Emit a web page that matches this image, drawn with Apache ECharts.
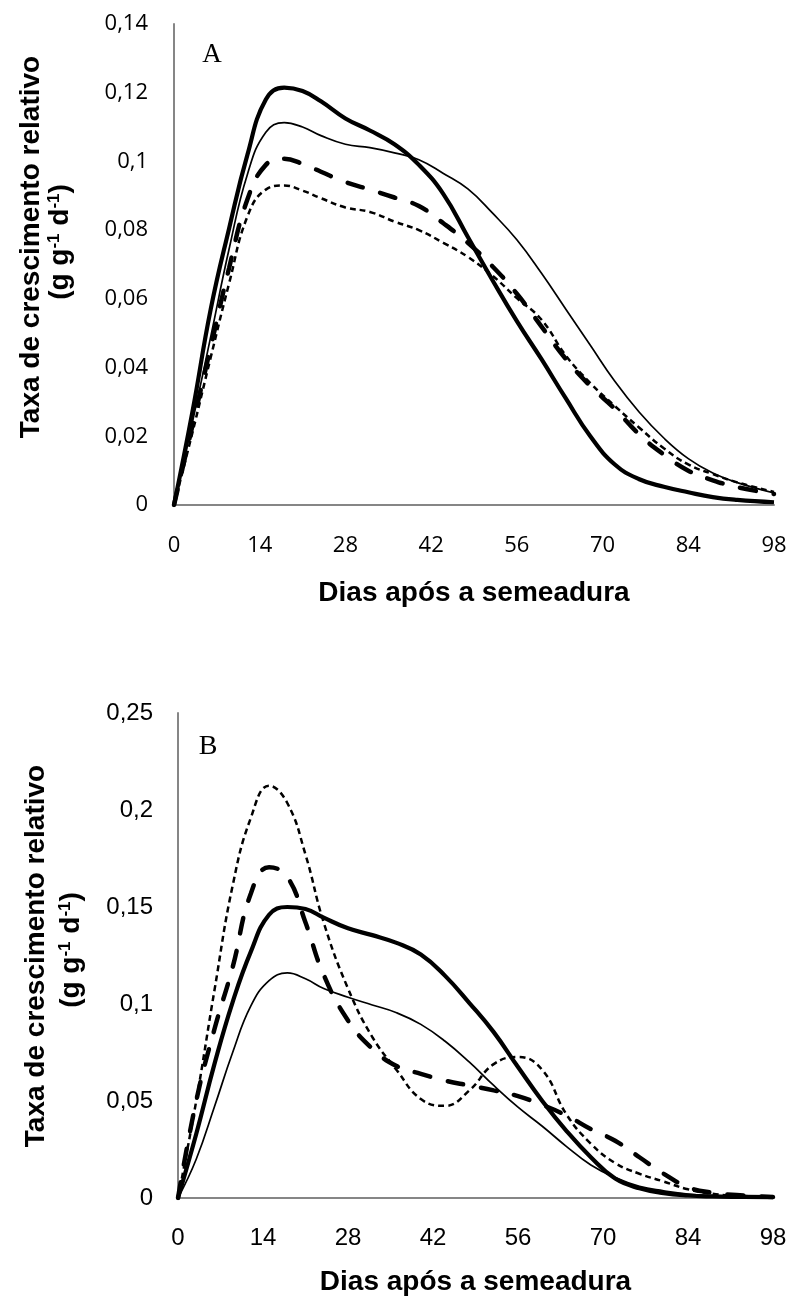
<!DOCTYPE html>
<html><head><meta charset="utf-8">
<script src="https://cdn.jsdelivr.net/npm/echarts@6/dist/echarts.min.js"></script>
<style>html,body{margin:0;padding:0;background:#fff}#c{width:790px;height:1298px}</style>
</head><body><div id="c"></div>
<script>
// ---- data ----
const days = [0,3,6,9,12,15,18,21,24,28,32,36,40,44,48,52,56,60,64,68,72,76,80,84,88,92,98];
const xTicks = [0,14,28,42,56,70,84,98];
const yTicksA = ['0','0,02','0,04','0,06','0,08','0,1','0,12','0,14'];
const yTicksB = ['0','0,05','0,1','0,15','0,2','0,25'];

// Panel A
const aThickSolid  = [0,0.027,0.057,0.0805,0.102,0.118,0.1215,0.1205,0.1175,0.1125,0.109,0.105,0.099,0.0905,0.078,0.0655,0.0535,0.0425,0.031,0.020,0.0118,0.0075,0.0053,0.0037,0.0023,0.0015,0.0008];
const aThinSolid   = [0,0.024,0.049,0.0745,0.0963,0.1085,0.1113,0.110,0.1075,0.105,0.104,0.1025,0.1005,0.0965,0.092,0.085,0.0772,0.0675,0.057,0.0465,0.036,0.027,0.0195,0.0135,0.0093,0.0065,0.0035];
const aThickDashed = [0,0.023,0.046,0.069,0.089,0.099,0.1008,0.0993,0.097,0.094,0.0918,0.0895,0.087,0.082,0.0763,0.0695,0.0615,0.052,0.0425,0.0346,0.028,0.0205,0.0147,0.010,0.0072,0.0052,0.0032];
const aThinDashed  = [0,0.021,0.043,0.0645,0.084,0.0918,0.093,0.0915,0.0893,0.0866,0.0853,0.0825,0.080,0.0763,0.0722,0.0668,0.0602,0.054,0.0435,0.0355,0.0288,0.0225,0.0165,0.0118,0.009,0.0066,0.0038];

// Panel B
const bThickSolid  = [0,0.033,0.069,0.101,0.127,0.146,0.150,0.149,0.1445,0.139,0.1355,0.1315,0.1255,0.1145,0.1005,0.0855,0.0675,0.050,0.0345,0.021,0.010,0.005,0.0025,0.0013,0.0008,0.0006,0.0005];
const bThinSolid   = [0,0.020,0.047,0.075,0.099,0.112,0.116,0.113,0.108,0.1035,0.0995,0.0955,0.0895,0.0808,0.070,0.058,0.0468,0.037,0.0265,0.017,0.0105,0.006,0.0037,0.002,0.0012,0.0008,0.0005];
const bThickDashed = [0,0.050,0.087,0.119,0.157,0.1705,0.1655,0.142,0.115,0.0915,0.077,0.068,0.064,0.0605,0.058,0.0555,0.0525,0.048,0.0425,0.0355,0.0295,0.021,0.0125,0.0056,0.0027,0.0015,0.0005];
const bThinDashed  = [0,0.050,0.107,0.161,0.196,0.2125,0.2036,0.177,0.142,0.108,0.083,0.066,0.051,0.0475,0.0555,0.069,0.0727,0.066,0.043,0.028,0.018,0.0125,0.0085,0.0045,0.0022,0.0012,0.0005];

const xTitle = 'Dias após a semeadura';
const yTitle1 = 'Taxa de crescimento relativo';
const yTitle2 = '(g g{sup|-1} d{sup|-1})';

// ---- chart ----
const pairs = arr => days.map((d,i)=>[d,arr[i]]);
const styles = {
  thickSolid:  {color:'#000', width:4.2, type:'solid'},
  thinSolid:   {color:'#000', width:1.7, type:'solid'},
  thickDashed: {color:'#000', width:4.5, type:[16,18], cap:'round'},
  thinDashed:  {color:'#000', width:2.5, type:[6,4]}
};
function mk(idx, arr, st){
  return {type:'line', xAxisIndex:idx, yAxisIndex:idx, data:pairs(arr), showSymbol:false,
    smooth:0.45, lineStyle:Object.assign({}, st), silent:true, animation:false};
}
const axisLineStyle = {lineStyle:{color:'#868686', width:2}};
const titleFont = '"Liberation Sans", Arial, sans-serif';

function xAxis(idx, font, size, margin, gap){
  return {type:'value', gridIndex:idx, min:0, max:98, interval:14,
    axisLine:{show:true, onZero:false, ...axisLineStyle}, axisTick:{show:false}, splitLine:{show:false},
    axisLabel:{color:'#000', fontFamily:font, fontSize:size, margin:margin,
      formatter:v=>String(xTicks[Math.round(v/14)])},
    name:xTitle, nameLocation:'middle', nameGap:gap,
    nameTextStyle:{color:'#000', fontFamily:titleFont, fontWeight:'bold', fontSize:28}};
}
function yAxis(idx, max, step, labels, font, size, margin){
  return {type:'value', gridIndex:idx, min:0, max:max, interval:step,
    axisLine:{show:true, ...axisLineStyle}, axisTick:{show:false}, splitLine:{show:false},
    axisLabel:{color:'#000', fontFamily:font, fontSize:size, margin:margin,
      formatter:v=>labels[Math.round(v/step)]}};
}
function rotText(x, y, text, rich){
  const st = {text:text, x:0, y:0, fill:'#000',
    font:'bold 28px "Liberation Sans", Arial, sans-serif',
    align:'center', verticalAlign:'middle', textAlign:'center', textVerticalAlign:'middle'};
  if (rich) st.rich = rich;
  return {type:'text', x:x, y:y, rotation:Math.PI/2, style:st, silent:true};
}
const supRich = {sup:{fontSize:17, fontWeight:'bold', fontFamily:titleFont, verticalAlign:'top', fill:'#000', color:'#000'}};

const chart = echarts.init(document.getElementById('c'), null, {renderer:'canvas'});
chart.setOption({
  animation:false,
  backgroundColor:'#fff',
  grid:[
    {left:174, top:24, width:600, height:481},
    {left:178, top:713, width:595, height:485}
  ],
  xAxis:[ xAxis(0,'"Open Sans", sans-serif',22,30,74), xAxis(1,'"Liberation Sans", Arial, sans-serif',24,28,70) ],
  yAxis:[ yAxis(0,0.14,0.02,yTicksA,'"Open Sans", sans-serif',22,26),
          yAxis(1,0.25,0.05,yTicksB,'"Liberation Sans", Arial, sans-serif',24,25) ],
  series:[
    mk(0,aThickSolid,styles.thickSolid), mk(0,aThinSolid,styles.thinSolid),
    mk(0,aThickDashed,styles.thickDashed), mk(0,aThinDashed,styles.thinDashed),
    mk(1,bThickSolid,styles.thickSolid), mk(1,bThinSolid,styles.thinSolid),
    mk(1,bThickDashed,styles.thickDashed), mk(1,bThinDashed,styles.thinDashed)
  ],
  graphic:[
    rotText(31,247,yTitle1), rotText(60,242,yTitle2,supRich),
    rotText(36,956,yTitle1), rotText(71,950,yTitle2,supRich),
    {type:'text', x:212, y:55, silent:true, style:{text:'A', fill:'#000', font:'27px "Liberation Serif", "Times New Roman", serif', align:'center', verticalAlign:'middle', textAlign:'center', textVerticalAlign:'middle'}},
    {type:'text', x:208, y:747, silent:true, style:{text:'B', fill:'#000', font:'28px "Liberation Serif", "Times New Roman", serif', align:'center', verticalAlign:'middle', textAlign:'center', textVerticalAlign:'middle'}}
  ]
});
</script></body></html>
